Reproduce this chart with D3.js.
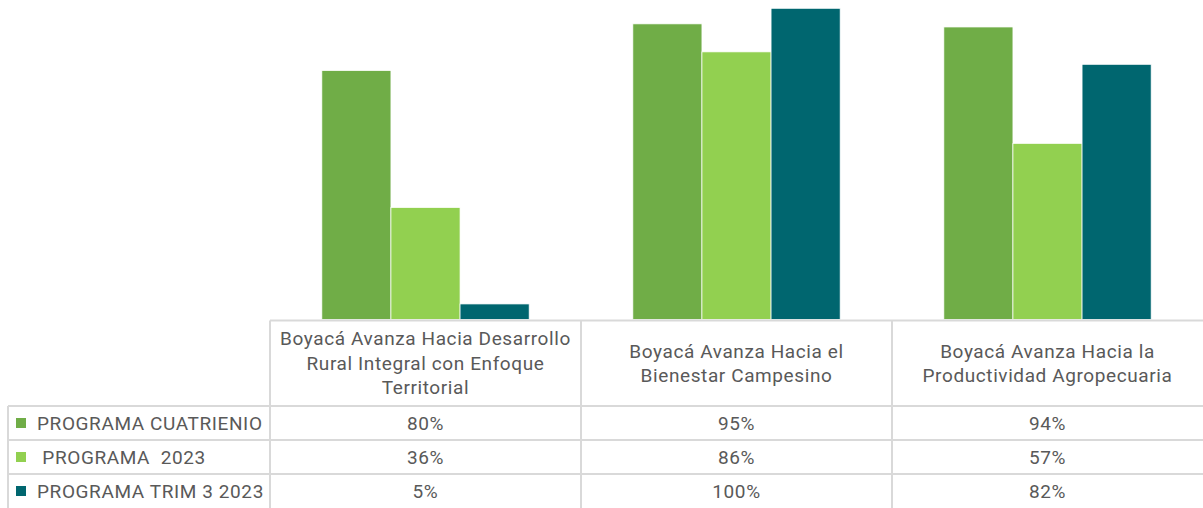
<!DOCTYPE html>
<html>
<head>
<meta charset="utf-8">
<script src="https://cdn.jsdelivr.net/npm/d3@7"></script>
<style>
  html, body { margin: 0; padding: 0; background: #fff; }
  svg { display: block; font-family: Roboto, "Open Sans", sans-serif; }
  svg text { letter-spacing: 0.6px; }
</style>
</head>
<body>
<svg id="chart" width="1203" height="508"></svg>
<script>
// ── Data ──────────────────────────────────────────────────────────────────────
const categories = [
  ["Boyacá Avanza Hacia Desarrollo", "Rural Integral con Enfoque", "Territorial"],
  ["Boyacá Avanza Hacia el", "Bienestar Campesino"],
  ["Boyacá Avanza Hacia la", "Productividad Agropecuaria"]
];
const seriesNames = ["PROGRAMA CUATRIENIO", " PROGRAMA  2023", "PROGRAMA TRIM 3 2023"];
const cuatrienio = [0.80, 0.95, 0.94];
const prog2023   = [0.36, 0.86, 0.566];
const trim3      = [0.05, 1.00, 0.82];
const colors = ["#70ad47", "#92d050", "#00666f"];

const seriesValues = [cuatrienio, prog2023, trim3];

// ── Layout ────────────────────────────────────────────────────────────────────
const svg = d3.select("#chart");
const W = 1203;
const plotLeft = 270, plotRight = 1203;
const baseY = 319.5, topY = 8.3;
const headerBottom = 406, rowH = 34;
const legendLeft = 8;
const textColor = "#595959";
const lineColor = "#d9d9d9";
const fontSize = 19;

const catIdx = categories.map((d, i) => i);
const x0 = d3.scaleBand().domain(catIdx).range([plotLeft, plotRight]).padding(0);
const x1 = d3.scaleBand().domain(d3.range(seriesNames.length))
  .range([0, x0.bandwidth()]).paddingInner(0).paddingOuter(0.75);
const y = d3.scaleLinear().domain([0, 1]).range([baseY, topY]);
const fmt = d3.format(".0%");

// ── Bars ──────────────────────────────────────────────────────────────────────
const groups = svg.append("g").selectAll("g")
  .data(catIdx).join("g")
  .attr("transform", i => `translate(${x0(i)},0)`);

groups.selectAll("rect")
  .data(i => seriesValues.map((vals, s) => ({ s, v: vals[i] })))
  .join("rect")
  .attr("x", d => x1(d.s))
  .attr("y", d => y(d.v))
  .attr("width", x1.bandwidth())
  .attr("height", d => baseY - y(d.v))
  .attr("fill", d => colors[d.s])
  .attr("stroke", "#fff")
  .attr("stroke-width", 0.75);

// ── Data table grid ───────────────────────────────────────────────────────────
const grid = svg.append("g").attr("stroke", lineColor).attr("stroke-width", 2);
grid.append("line").attr("x1", plotLeft).attr("x2", W).attr("y1", baseY + 1).attr("y2", baseY + 1);
seriesNames.forEach((s, r) => {
  const yy = headerBottom + r * rowH;
  grid.append("line").attr("x1", legendLeft).attr("x2", W).attr("y1", yy).attr("y2", yy);
});
grid.append("line").attr("x1", legendLeft).attr("x2", legendLeft)
  .attr("y1", headerBottom).attr("y2", 508);
catIdx.forEach(i => {
  grid.append("line").attr("x1", x0(i)).attr("x2", x0(i))
    .attr("y1", baseY + 1).attr("y2", 508);
});

// ── Header labels ─────────────────────────────────────────────────────────────
const headerMid = (baseY + headerBottom) / 2;
const lineH = 24.5;
svg.append("g").selectAll("text")
  .data(catIdx).join("text")
  .attr("x", i => x0(i) + x0.bandwidth() / 2)
  .attr("text-anchor", "middle")
  .attr("fill", textColor)
  .attr("font-size", fontSize)
  .each(function(i) {
    const lines = categories[i];
    const y0 = headerMid - (lines.length - 1) * lineH / 2 + 7;
    d3.select(this).selectAll("tspan").data(lines).join("tspan")
      .attr("x", x0(i) + x0.bandwidth() / 2)
      .attr("y", (d, k) => y0 + k * lineH)
      .text(d => d);
  });

// ── Rows: legend + values ─────────────────────────────────────────────────────
const rows = svg.append("g").selectAll("g")
  .data(seriesNames).join("g")
  .attr("transform", (d, r) => `translate(0,${headerBottom + r * rowH + rowH / 2})`);

rows.append("rect")
  .attr("x", 16).attr("y", -5).attr("width", 10).attr("height", 10)
  .attr("fill", (d, r) => colors[r]);

rows.append("text")
  .attr("x", 37).attr("y", 7)
  .attr("fill", textColor)
  .attr("font-size", fontSize)
  .attr("xml:space", "preserve")
  .style("white-space", "pre")
  .text(d => d);

rows.selectAll("text.val")
  .data((d, r) => seriesValues[r])
  .join("text")
  .attr("class", "val")
  .attr("x", (v, i) => x0(i) + x0.bandwidth() / 2)
  .attr("y", 7)
  .attr("text-anchor", "middle")
  .attr("fill", textColor)
  .attr("font-size", fontSize)
  .text(v => fmt(v));
</script>
</body>
</html>
